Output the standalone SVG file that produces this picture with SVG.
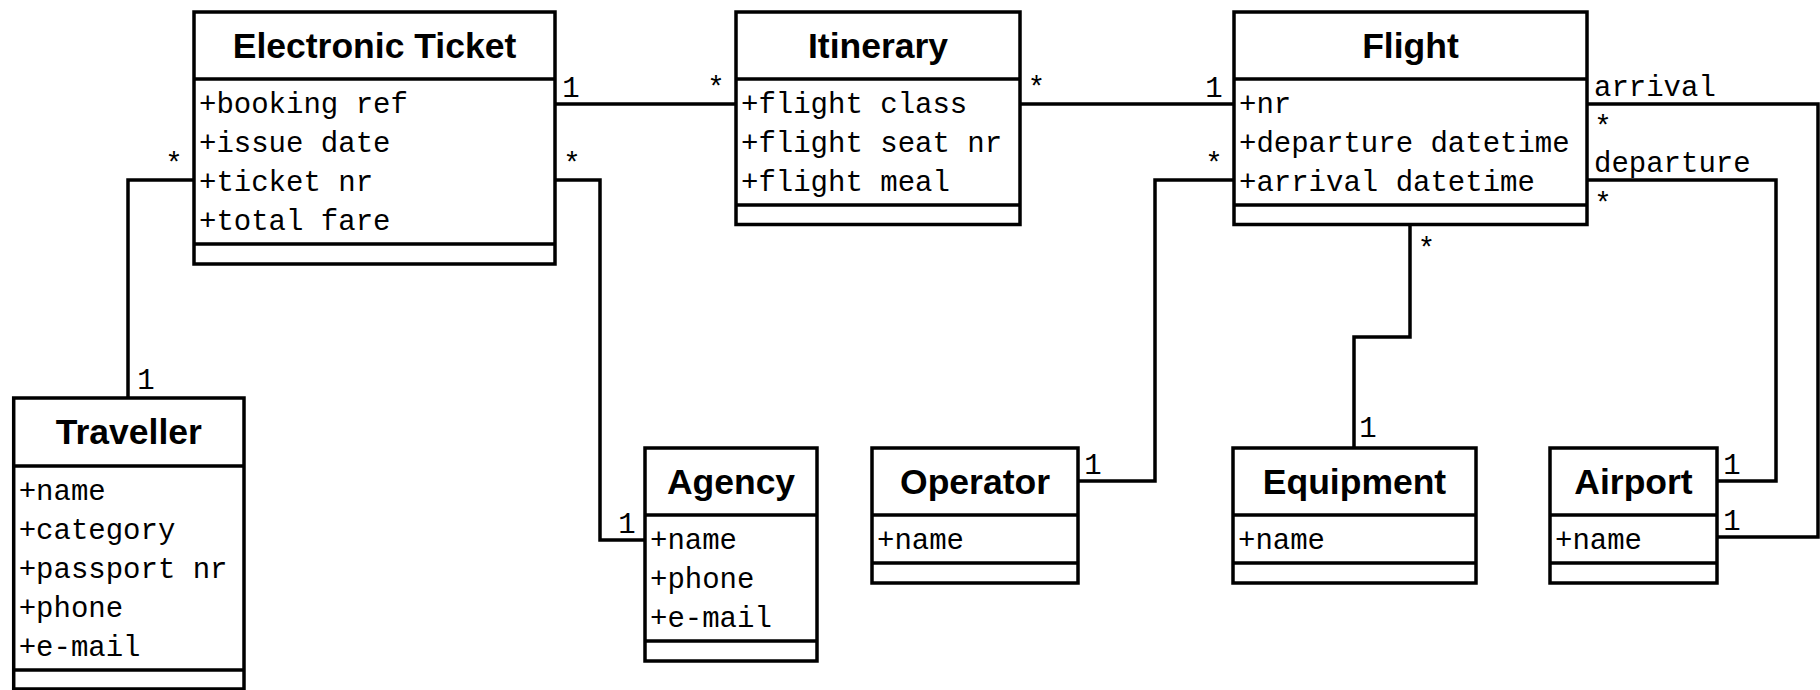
<svg xmlns="http://www.w3.org/2000/svg" width="1820" height="690" viewBox="0 0 1820 690">
  <style>
    .box { fill: #fff; stroke: #000; stroke-width: 3.5; }
    .sep { fill: none; stroke: #000; stroke-width: 3.5; }
    .conn { fill: none; stroke: #000; stroke-width: 3.5; stroke-linejoin: miter; }
    .title { font-family: "Liberation Sans", Arial, sans-serif; font-weight: bold; font-size: 35.5px; text-anchor: middle; fill: #000; }
    .attr, .lbl, .role { font-family: "Courier New", "Nimbus Mono PS", "FreeMono", "Liberation Mono", monospace; font-size: 29px; fill: #000; }
    .lbl { text-anchor: middle; }
  </style>

  <rect width="1820" height="690" fill="#fff"/>

  <!-- associations -->
  <g id="connectors">
    <path class="conn" d="M555,104 H736"/>
    <path class="conn" d="M1020,104 H1234"/>
    <path class="conn" d="M194,180 H128 V398"/>
    <path class="conn" d="M555,180 H600 V540 H645"/>
    <path class="conn" d="M1234,180 H1155 V481 H1078"/>
    <path class="conn" d="M1410,224.5 V337 H1354 V448"/>
    <path class="conn" d="M1587,104 H1818 V537 H1717"/>
    <path class="conn" d="M1587,180 H1776 V481 H1717"/>

    <!-- multiplicities and roles -->
    <text class="lbl" x="571" y="96.5">1</text>
    <text class="lbl" x="716" y="96.5">*</text>
    <text class="lbl" x="1036.5" y="96.5">*</text>
    <text class="lbl" x="1214" y="96.5">1</text>
    <text class="lbl" x="174" y="172.5">*</text>
    <text class="lbl" x="146" y="389">1</text>
    <text class="lbl" x="572" y="172.5">*</text>
    <text class="lbl" x="627" y="532.5">1</text>
    <text class="lbl" x="1214" y="172.5">*</text>
    <text class="lbl" x="1093" y="473.5">1</text>
    <text class="lbl" x="1426.5" y="258">*</text>
    <text class="lbl" x="1368" y="437">1</text>
    <text class="role" x="1594" y="95.5">arrival</text>
    <text class="lbl" x="1603" y="136">*</text>
    <text class="lbl" x="1732" y="529.5">1</text>
    <text class="role" x="1594" y="172">departure</text>
    <text class="lbl" x="1603" y="213">*</text>
    <text class="lbl" x="1732" y="473.5">1</text>
  </g>

  <g id="electronic-ticket">
    <rect class="box" x="194" y="12" width="361" height="252"/>
    <path class="sep" d="M194,79 H555 M194,244 H555"/>
    <text class="title" x="374.5" y="57.5">Electronic Ticket</text>
    <text class="attr" x="199" y="113">+booking ref</text>
    <text class="attr" x="199" y="152">+issue date</text>
    <text class="attr" x="199" y="191">+ticket nr</text>
    <text class="attr" x="199" y="230">+total fare</text>
  </g>

  <g id="itinerary">
    <rect class="box" x="736" y="12" width="284" height="212.5"/>
    <path class="sep" d="M736,79 H1020 M736,205 H1020"/>
    <text class="title" x="878" y="57.5">Itinerary</text>
    <text class="attr" x="741" y="113">+flight class</text>
    <text class="attr" x="741" y="152">+flight seat nr</text>
    <text class="attr" x="741" y="191">+flight meal</text>
  </g>

  <g id="flight">
    <rect class="box" x="1234" y="12" width="353" height="212.5"/>
    <path class="sep" d="M1234,79 H1587 M1234,205 H1587"/>
    <text class="title" x="1410.5" y="57.5">Flight</text>
    <text class="attr" x="1239" y="113">+nr</text>
    <text class="attr" x="1239" y="152">+departure datetime</text>
    <text class="attr" x="1239" y="191">+arrival datetime</text>
  </g>

  <g id="traveller">
    <rect class="box" x="13.7" y="398" width="230.3" height="291"/>
    <path class="sep" d="M13.7,466 H244 M13.7,670 H244"/>
    <text class="title" x="128.8" y="443.5">Traveller</text>
    <text class="attr" x="18.7" y="500">+name</text>
    <text class="attr" x="18.7" y="539">+category</text>
    <text class="attr" x="18.7" y="578">+passport nr</text>
    <text class="attr" x="18.7" y="617">+phone</text>
    <text class="attr" x="18.7" y="656">+e-mail</text>
  </g>

  <g id="agency">
    <rect class="box" x="645" y="448" width="172" height="213"/>
    <path class="sep" d="M645,515 H817 M645,641 H817"/>
    <text class="title" x="731" y="493.5">Agency</text>
    <text class="attr" x="650" y="549">+name</text>
    <text class="attr" x="650" y="588">+phone</text>
    <text class="attr" x="650" y="627">+e-mail</text>
  </g>

  <g id="operator">
    <rect class="box" x="872" y="448" width="206" height="135"/>
    <path class="sep" d="M872,515 H1078 M872,563 H1078"/>
    <text class="title" x="975" y="493.5">Operator</text>
    <text class="attr" x="877" y="549">+name</text>
  </g>

  <g id="equipment">
    <rect class="box" x="1233" y="448" width="243" height="135"/>
    <path class="sep" d="M1233,515 H1476 M1233,563 H1476"/>
    <text class="title" x="1354.5" y="493.5">Equipment</text>
    <text class="attr" x="1238" y="549">+name</text>
  </g>

  <g id="airport">
    <rect class="box" x="1550" y="448" width="167" height="135"/>
    <path class="sep" d="M1550,515 H1717 M1550,563 H1717"/>
    <text class="title" x="1633.5" y="493.5">Airport</text>
    <text class="attr" x="1555" y="549">+name</text>
  </g>
</svg>
